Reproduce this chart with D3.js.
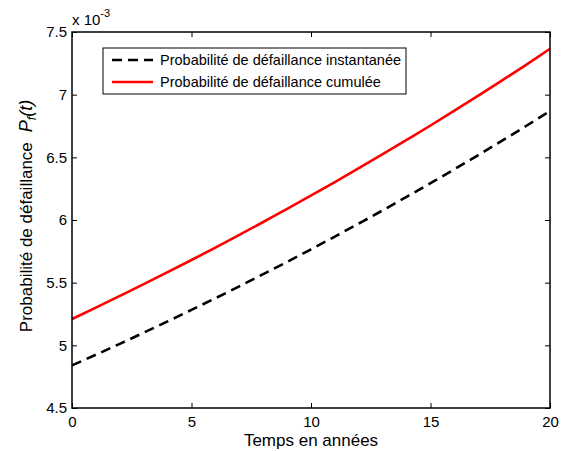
<!DOCTYPE html>
<html><head><meta charset="utf-8">
<script src="https://cdn.jsdelivr.net/npm/d3@7"></script>
<style>body{margin:0;background:#fff}svg{display:block;font-family:"Liberation Sans",Arial,sans-serif}</style>
</head><body><svg id="c" width="563" height="451"></svg>
<script>
const years = [0,1,2,3,4,5,6,7,8,9,10,11,12,13,14,15,16,17,18,19,20];
const instantanee = [4.840,4.925,5.012,5.101,5.191,5.283,5.376,5.471,5.568,5.666,5.766,5.868,5.972,6.077,6.185,6.294,6.405,6.518,6.633,6.750,6.869];
const cumulee = [5.210,5.301,5.394,5.488,5.584,5.681,5.780,5.881,5.984,6.088,6.195,6.303,6.413,6.525,6.639,6.754,6.872,6.992,7.114,7.238,7.366];
const xTicks = [0,5,10,15,20];
const yTicks = [4.5,5,5.5,6,6.5,7,7.5];
const seriesNames = ["Probabilité de défaillance instantanée","Probabilité de défaillance cumulée"];

const svg = d3.select("#c");
const L=72,R=550,T=32,B=408;
const x = d3.scaleLinear().domain([0,20]).range([L,R]);
const y = d3.scaleLinear().domain([4.5,7.5]).range([B,T]);

const tk=5;
svg.append("g").attr("transform",`translate(0,${B})`)
  .call(d3.axisBottom(x).tickValues(xTicks).tickFormat(d3.format("d")).tickSizeInner(-tk).tickSizeOuter(0).tickPadding(8));
svg.append("g").attr("transform",`translate(0,${T})`)
  .call(d3.axisTop(x).tickValues(xTicks).tickFormat("").tickSizeInner(-tk).tickSizeOuter(0));
svg.append("g").attr("transform",`translate(${L},0)`)
  .call(d3.axisLeft(y).tickValues(yTicks).tickFormat(d=>String(d)).tickSizeInner(-tk).tickSizeOuter(0).tickPadding(5));
svg.append("g").attr("transform",`translate(${R},0)`)
  .call(d3.axisRight(y).tickValues(yTicks).tickFormat("").tickSizeInner(-tk).tickSizeOuter(0));
svg.selectAll(".domain").remove();
svg.selectAll(".tick line").attr("stroke","#000").attr("stroke-width",1);
svg.selectAll(".tick text").attr("fill","#000").style("font-size","15px").style("font-family","'Liberation Sans',Arial,sans-serif");

const line = d3.line().x((d,i)=>x(years[i])).y(d=>y(d)).curve(d3.curveMonotoneX);
svg.append("path").datum(cumulee).attr("d",line).attr("fill","none").attr("stroke","#ff0000").attr("stroke-width",2.6);
svg.append("path").datum(instantanee).attr("d",line).attr("fill","none").attr("stroke","#000").attr("stroke-width",2.6).attr("stroke-dasharray","10,6");

svg.append("rect").attr("x",L).attr("y",T).attr("width",R-L).attr("height",B-T).attr("fill","none").attr("stroke","#000").attr("stroke-width",1.5);

const ex = svg.append("text").attr("x",L).attr("y",25).style("font-size","15px");
ex.append("tspan").text("x 10");
ex.append("tspan").attr("dy",-8).style("font-size","11px").text("-3");

svg.append("text").attr("x",(L+R)/2).attr("y",446).attr("text-anchor","middle").style("font-size","17px").text("Temps en années");
const yl = svg.append("text").attr("transform",`translate(32,${(T+B)/2 - 4}) rotate(-90)`).attr("text-anchor","middle").style("font-size","17px");
yl.append("tspan").text("Probabilité de défaillance");
yl.append("tspan").attr("dx",10).style("font-style","italic").style("font-size","18px").text("P");
yl.append("tspan").attr("dy",4).style("font-size","12px").style("font-style","italic").text("f");
yl.append("tspan").attr("dy",-4).style("font-style","italic").style("font-size","18px").text("(t)");

const lg = svg.append("g");
lg.append("rect").attr("x",103).attr("y",48).attr("width",303).attr("height",46).attr("fill","#fff").attr("stroke","#000").attr("stroke-width",1);
const styles=[{c:"#000",d:"10,6"},{c:"#ff0000",d:null}];
seriesNames.forEach((n,i)=>{
  const yy = 60 + i*22;
  const l = lg.append("line").attr("x1",112).attr("x2",153).attr("y1",yy).attr("y2",yy).attr("stroke",styles[i].c).attr("stroke-width",2.6);
  if(styles[i].d) l.attr("stroke-dasharray",styles[i].d);
  lg.append("text").attr("x",160).attr("y",yy+5).style("font-size","14.5px").text(n);
});
</script></body></html>
